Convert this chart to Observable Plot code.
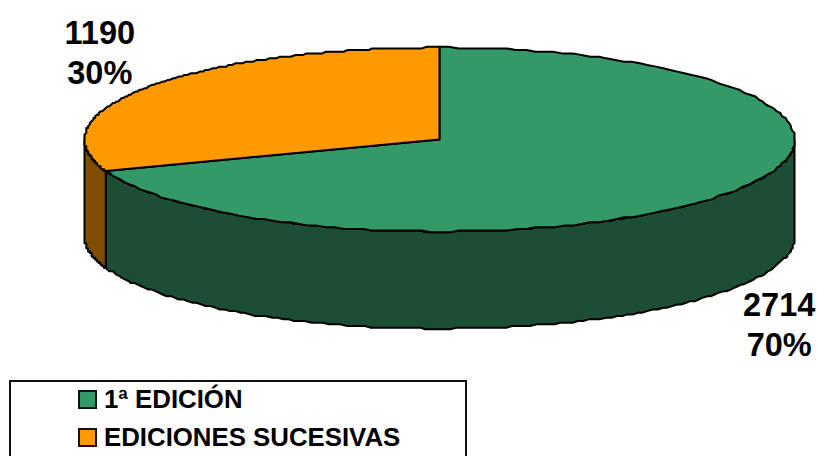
<!DOCTYPE html>
<html lang="es">
<head>
<meta charset="utf-8">
<script src="https://cdn.jsdelivr.net/npm/d3@7"></script>
<script src="https://cdn.jsdelivr.net/npm/@observablehq/plot@0.6"></script>
<style>
html,body{margin:0;padding:0;background:#fff;overflow:hidden;width:817px;height:456px}
#chart svg{display:block}
#legend{position:absolute;left:9px;top:380px;width:454px;height:90px;border:2px solid #111;box-sizing:content-box;font:bold 25.8px "Liberation Sans",Arial,sans-serif;color:#000;letter-spacing:0}
.row{position:absolute;left:67px;display:flex;align-items:center;height:24px;white-space:nowrap}
.sw{width:15px;height:15px;border:2px solid #111;margin-right:7px;flex:none}
</style>
</head>
<body>
<div id="chart"></div>
<div id="legend"></div>
<script>
const categories = ["1ª EDICIÓN", "EDICIONES SUCESIVAS"];
const values = [2714, 1190];
const percents = ["70%", "30%"];
const topColors = ["#339966", "#ff9900"];
const sideColors = ["#1c4d35", "#804d00"];
const depth = 1.055;          // thickness of the pie, in units of the vertical radius
const labelReach = [1.17, 1.65];
const rimStepX = 0.005, rimStepY = 0.018;  // the reference's rim is slightly stepped

const total = d3.sum(values);
const bounds = d3.cumsum(values).map(v => v / total * 2 * Math.PI);
const slices = values.map((v, i) => ({i, a0: i ? bounds[i - 1] : 0, a1: bounds[i]}));
const arc = (a0, a1) => d3.range(0, 161).map(k => a0 + (a1 - a0) * k / 160);
const px = a => Math.round(Math.sin(a) / rimStepX) * rimStepX;
const py = a => Math.round(Math.cos(a) / rimStepY) * rimStepY;

const faces = [];
// front wall: only the part of each slice on the near half of the ellipse
slices.forEach(({i, a0, a1}) => {
  const s0 = Math.max(a0, Math.PI / 2), s1 = Math.min(a1, 3 * Math.PI / 2);
  if (s1 <= s0) return;
  const key = "side" + i, color = sideColors[i];
  arc(s0, s1).forEach(a => faces.push({key, color, x: px(a), y: py(a)}));
  arc(s0, s1).reverse().forEach(a => faces.push({key, color, x: px(a), y: py(a) - depth}));
});
// top face
slices.forEach(({i, a0, a1}) => {
  const key = "top" + i, color = topColors[i];
  faces.push({key, color, x: 0, y: 0});
  arc(a0, a1).forEach(a => faces.push({key, color, x: px(a), y: py(a)}));
});

const labels = slices.map(({i, a0, a1}) => {
  const m = (a0 + a1) / 2;
  return {
    text: values[i] + "\n" + percents[i],
    x: Math.sin(m) * labelReach[0],
    y: Math.cos(m) * labelReach[1] - (Math.cos(m) < 0 ? depth : 0)
  };
});

const plot = Plot.plot({
  width: 817, height: 376,
  margin: 0,
  x: {domain: [-1, 1], range: [84, 794], axis: null},
  y: {domain: [-1, 1], range: [231, 47], axis: null},
  color: {type: "identity"},
  marks: [
    Plot.line(faces, {
      x: "x", y: "y", z: "key", fill: "color",
      stroke: "#000", strokeWidth: 2, strokeLinejoin: "round",
      curve: "linear-closed"
    }),
    Plot.text(labels, {
      x: "x", y: "y", text: "text", fill: "#000", dy: -1,
      fontSize: 32.5, fontWeight: "bold", fontFamily: "Liberation Sans, Arial, sans-serif",
      lineHeight: 1.24, textAnchor: "middle", lineAnchor: "middle"
    })
  ]
});
plot.setAttribute("style", "overflow:visible;background:transparent;display:block");
document.getElementById("chart").append(plot);

const legend = document.getElementById("legend");
categories.forEach((c, i) => {
  const r = document.createElement("div");
  r.className = "row";
  r.style.top = (5 + i * 38) + "px";
  const s = document.createElement("span");
  s.className = "sw";
  s.style.background = topColors[i];
  const t = document.createElement("span");
  t.textContent = c;
  r.append(s, t);
  legend.append(r);
});
</script>
</body>
</html>
